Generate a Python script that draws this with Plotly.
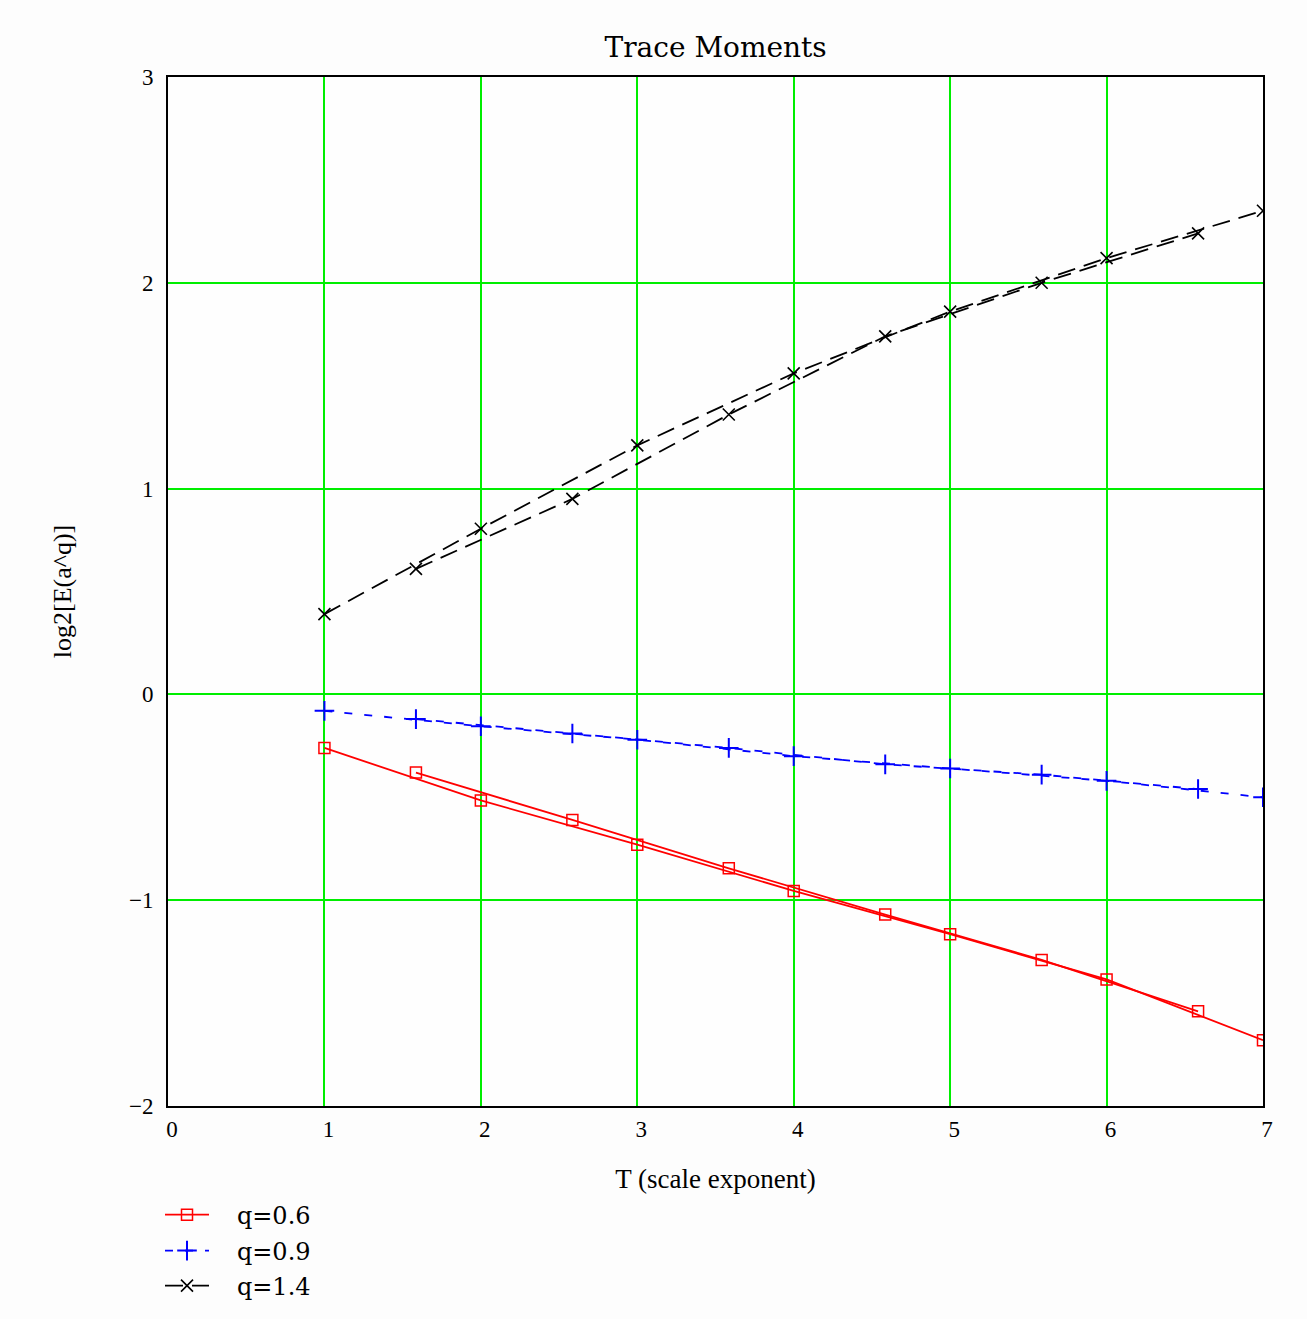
import plotly.graph_objects as go

# Scale exponents: integer scales and the intermediate 3*2^k scales (log2(3) offset)
T_int = [1, 2, 3, 4, 5, 6, 7]
T_mid = [1.585, 2.585, 3.585, 4.585, 5.585, 6.585]

# log2 of the q-th moment for each q, on both scale grids
q06_int = [-0.26, -0.515, -0.73, -0.955, -1.165, -1.385, -1.68]
q06_mid = [-0.38, -0.61, -0.845, -1.07, -1.29, -1.54]

q09_int = [-0.08, -0.155, -0.22, -0.30, -0.36, -0.42, -0.50]
q09_mid = [-0.12, -0.19, -0.26, -0.34, -0.39, -0.46]

q14_int = [0.39, 0.805, 1.21, 1.56, 1.86, 2.12, 2.35]
q14_mid = [0.61, 0.95, 1.36, 1.74, 2.00, 2.24]

x_ticks = [0, 1, 2, 3, 4, 5, 6, 7]
y_ticks = [-2, -1, 0, 1, 2, 3]

SERIF = "Liberation Serif, Times New Roman, serif"
WIDE_SERIF = "DejaVu Serif, serif"
PAD = "\u00a0\u00a0\u00a0"  # gap between legend sample and its label

# one small legend box per series, stacked under the x-axis title
series = [
    ("q=0.6", q06_int, q06_mid, "#ff0000", "solid",
     dict(symbol="square-open", size=11, line=dict(width=1.5, color="#ff0000")),
     "legend", -0.1049),
    ("q=0.9", q09_int, q09_mid, "#0000ff", "8px,12px",
     dict(symbol="cross-thin", size=14, line=dict(width=2, color="#0000ff")),
     "legend2", -0.1398),
    ("q=1.4", q14_int, q14_mid, "#000000", "18px,9px",
     dict(symbol="x-thin", size=12, line=dict(width=1.6, color="#000000")),
     "legend3", -0.1738),
]

fig = go.Figure()
legend_boxes = {}
for name, y_int, y_mid, color, dash, marker, leg, leg_y in series:
    fig.add_trace(go.Scatter(
        x=T_int, y=y_int, mode="lines+markers", name=PAD + name,
        legend=leg, legendgroup=name, showlegend=True,
        line=dict(color=color, width=1.8, dash=dash),
        marker=dict(color=color, **marker),
    ))
    fig.add_trace(go.Scatter(
        x=T_mid, y=y_mid, mode="lines+markers", name=PAD + name,
        legend=leg, legendgroup=name, showlegend=False,
        line=dict(color=color, width=1.8, dash=dash),
        marker=dict(color=color, **marker),
    ))
    legend_boxes[leg] = dict(
        orientation="v", x=-0.0073, xanchor="left", y=leg_y, yanchor="middle",
        font=dict(family=WIDE_SERIF, size=24, color="#000000"),
        bgcolor="rgba(0,0,0,0)", itemwidth=44,
    )

axis_common = dict(
    showgrid=True, gridcolor="#00ee00", gridwidth=2,
    zeroline=False, showline=True, linecolor="#000000", linewidth=2,
    mirror=True, ticks="", tickfont=dict(family=SERIF, size=23, color="#000000"),
    automargin=False,
)

fig.update_xaxes(range=[0, 7], tickvals=x_ticks, ticklabelstandoff=1, ticklabelshift=4,
                 title=dict(text="T (scale exponent)", standoff=29,
                            font=dict(family=SERIF, size=27, color="#000000")),
                 **axis_common)
fig.update_yaxes(range=[-2, 3], tickvals=y_ticks, ticklabelstandoff=8,
                 title=dict(text="log2[E(a^q)]", standoff=50,
                            font=dict(family=SERIF, size=26, color="#000000")),
                 **axis_common)

fig.update_layout(
    width=1307, height=1319,
    margin=dict(l=168, r=44, t=77, b=212),
    paper_bgcolor="#fdfdfd", plot_bgcolor="#fefefe",
    title=dict(text="Trace Moments", x=0.5475, xanchor="center", y=0.964, yanchor="middle",
               font=dict(family=WIDE_SERIF, size=28, color="#000000")),
    showlegend=True,
    **legend_boxes,
)

fig.write_html("out.html")
